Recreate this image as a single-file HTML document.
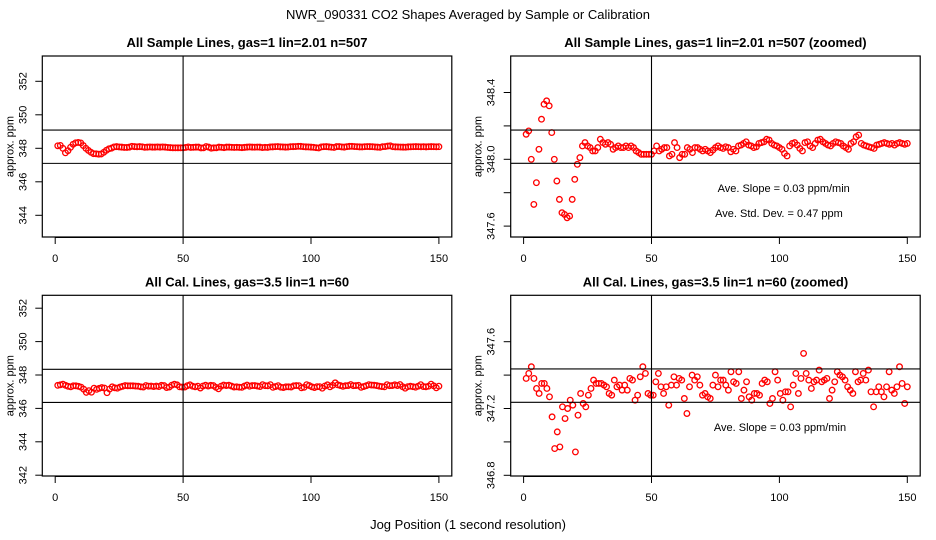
<!DOCTYPE html>
<html><head><meta charset="utf-8"><style>
html,body{margin:0;padding:0;background:#fff;}
svg{display:block;font-family:"Liberation Sans",sans-serif;}
</style></head><body>
<svg id="chart" width="936" height="540" viewBox="0 0 936 540" xmlns="http://www.w3.org/2000/svg">
<rect x="0" y="0" width="936" height="540" fill="#fff"/>
<text x="468" y="19" font-size="13" text-anchor="middle">NWR_090331  CO2 Shapes Averaged by Sample or Calibration</text>
<text x="468" y="529" font-size="13" text-anchor="middle">Jog Position (1 second resolution)</text>
<g id="panels"></g>
</svg>
<script>
const sampleValues = [348.15,348.17,348.00,347.73,347.86,348.06,348.24,348.33,348.35,348.32,
348.16,348.00,347.87,347.76,347.68,347.67,347.65,347.66,347.76,347.88,
347.97,348.01,348.08,348.10,348.08,348.07,348.05,348.05,348.07,348.12,
348.10,348.09,348.10,348.09,348.06,348.07,348.08,348.07,348.07,348.08,
348.07,348.08,348.07,348.05,348.04,348.03,348.03,348.03,348.03,348.03,
348.05,348.08,348.05,348.06,348.07,348.07,348.02,348.03,348.10,348.07,
348.01,348.03,348.03,348.07,348.06,348.04,348.07,348.07,348.06,348.05,
348.06,348.05,348.04,348.055,348.07,348.08,348.07,348.065,348.075,348.07,
348.045,348.06,348.05,348.08,348.085,348.095,348.105,348.085,348.08,348.07,
348.075,348.095,348.10,348.105,348.12,348.115,348.095,348.085,348.08,348.07,
348.06,348.035,348.02,348.08,348.095,348.10,348.085,348.065,348.05,348.10,
348.105,348.08,348.07,348.095,348.115,348.12,348.105,348.095,348.085,348.08,
348.095,348.105,348.10,348.095,348.08,348.07,348.06,348.095,348.105,348.135,
348.145,348.095,348.085,348.08,348.075,348.07,348.065,348.085,348.09,348.095,
348.10,348.095,348.09,348.095,348.085,348.095,348.10,348.095,348.09,348.095];
const calValues = [347.38,347.41,347.45,347.38,347.32,347.29,347.35,347.35,347.32,347.27,
347.15,346.96,347.06,346.97,347.21,347.14,347.20,347.25,347.22,346.94,
347.16,347.29,347.23,347.21,347.28,347.32,347.37,347.35,347.35,347.35,
347.34,347.33,347.29,347.28,347.37,347.33,347.34,347.31,347.34,347.31,
347.38,347.37,347.25,347.28,347.39,347.45,347.41,347.29,347.28,347.28,
347.36,347.41,347.33,347.29,347.33,347.22,347.34,347.39,347.34,347.38,
347.37,347.26,347.17,347.33,347.40,347.37,347.39,347.34,347.28,347.29,
347.27,347.26,347.34,347.40,
347.33,347.37,347.37,347.34,347.31,347.42,347.36,347.35,347.42,347.26,
347.31,347.36,347.27,347.25,347.29,347.29,347.28,347.35,347.37,347.36,
347.23,347.26,347.42,347.37,347.29,347.25,347.30,347.30,347.21,347.34,
347.41,347.29,347.38,347.53,347.41,347.37,347.32,347.36,347.37,347.43,
347.36,347.37,347.38,347.26,347.31,347.36,347.42,347.40,347.39,347.37,
347.33,347.31,347.29,347.42,347.36,347.37,347.41,347.37,347.43,347.30,
347.21,347.30,347.33,347.30,347.27,347.33,347.42,347.31,347.29,347.33,
347.45,347.35,347.23,347.33];
const xTicks = [0,50,100,150];
const ticksTL = [344,346,348,350,352];
const ticksTR = [347.6,347.8,348.0,348.2,348.4];
const labelsTR = ["347.6","","348.0","","348.4"];
const ticksBL = [342,344,346,348,350,352];
const ticksBR = [346.8,347.0,347.2,347.4,347.6];
const labelsBR = ["346.8","","347.2","","347.6"];
const hLinesTL = [347.1,349.09];
const hLinesTR = [347.976,348.175];
const hLinesBL = [346.36,348.34];
const hLinesBR = [347.237,347.437];
const vLine = [50];

const NS="http://www.w3.org/2000/svg";
const root=document.getElementById('panels');
function mk(tag,attrs,parent){const e=document.createElementNS(NS,tag);for(const k in attrs)e.setAttribute(k,attrs[k]);(parent||root).appendChild(e);return e;}

function panel(cfg){
  const g=mk('g',{});
  
  
  const L=cfg.left,T=cfg.top,B=cfg.bottom,R=cfg.left+409.5;
  const x0=cfg.left+12.9, xs=2.558;
  const xf=v=>x0+v*xs;
  const yf=v=>cfg.yRef-(v-cfg.vRef)*cfg.ys;
  const t=mk('text',{x:(L+R)/2,y:T-9,'font-size':13,'font-weight':'bold','text-anchor':'middle'},g);
  t.textContent=cfg.title;
  
  
  const box=mk('rect',{x:L,y:T,width:R-L,height:B-T,fill:'none',stroke:'#000','stroke-width':1.2},g);
  
  
  const xa=mk('line',{x1:xf(xTicks[0]),x2:xf(xTicks[xTicks.length-1]),y1:B+0.5,y2:B+0.5,stroke:'#000'},g);
  
  
  xTicks.forEach(v=>{
    const tk=mk('line',{x1:xf(v),x2:xf(v),y1:B,y2:B+7,stroke:'#000'},g);
    
    
    const tl=mk('text',{x:xf(v),y:B+25,'font-size':11,'text-anchor':'middle'},g);
    tl.textContent=String(v);
    
    
  });
  cfg.yticks.forEach((v,i)=>{
    const y=yf(v);
    const tk=mk('line',{x1:L-7,x2:L,y1:y,y2:y,stroke:'#000'},g);
    
    
    const lab=cfg.ylabels?cfg.ylabels[i]:String(v);
    if(lab){
      const tl=mk('text',{x:0,y:0,'font-size':11,'text-anchor':'middle',transform:`translate(${L-16},${y}) rotate(-90)`},g);
      tl.textContent=lab;
      
      
    }
  });
  const yl=mk('text',{x:0,y:0,'font-size':11,'text-anchor':'middle',transform:`translate(${L-29},${(T+B)/2}) rotate(-90)`},g);
  yl.textContent='approx. ppm';
  
  
  const clip='clip-'+cfg.name;
  const cp=mk('clipPath',{id:clip},g);mk('rect',{x:L,y:T,width:R-L,height:B-T},cp);
  const pts=mk('g',{'clip-path':`url(#${clip})`},g);
  
  
  const n=cfg.data.length;
  cfg.data.forEach((v,i)=>{
    const xv=1+i*149/(n-1);
    const c=mk('circle',{cx:xf(xv),cy:yf(v),r:2.8,fill:'none',stroke:'#f00','stroke-width':1.3},pts);
    
    
  });
  cfg.hlines.forEach(v=>{
    const l=mk('line',{x1:L,x2:R,y1:yf(v),y2:yf(v),stroke:'#000','stroke-width':1.1},g);
    
    
  });
  vLine.forEach(v=>{
    const l=mk('line',{x1:xf(v),x2:xf(v),y1:T,y2:B,stroke:'#000','stroke-width':1.1},g);
    
    
  });
  (cfg.notes||[]).forEach(nt=>{
    const tx=mk('text',{x:nt[0],y:nt[1],'font-size':11,'text-anchor':'middle'},g);
    tx.textContent=nt[2];
    
    
  });
}
panel({name:'panel-sample',title:'All Sample Lines, gas=1 lin=2.01 n=507',left:42.3,top:56,bottom:237,yRef:148.3,vRef:348,ys:16.75,yticks:ticksTL,data:sampleValues,hlines:hLinesTL});
panel({name:'panel-sample-zoomed',title:'All Sample Lines, gas=1 lin=2.01 n=507 (zoomed)',left:510.7,top:56,bottom:237,yRef:159.3,vRef:348,ys:167,yticks:ticksTR,ylabels:labelsTR,data:sampleValues,hlines:hLinesTR,
  notes:[[783.7,192,'Ave. Slope =  0.03  ppm/min'],[779,217,'Ave. Std. Dev. =  0.47  ppm']]});
panel({name:'panel-cal',title:'All Cal. Lines, gas=3.5 lin=1 n=60',left:42.3,top:295.3,bottom:476,yRef:375,vRef:348,ys:16.7,yticks:ticksBL,data:calValues,hlines:hLinesBL});
panel({name:'panel-cal-zoomed',title:'All Cal. Lines, gas=3.5 lin=1 n=60 (zoomed)',left:510.7,top:295.3,bottom:476,yRef:341.7,vRef:347.6,ys:167,yticks:ticksBR,ylabels:labelsBR,data:calValues,hlines:hLinesBR,
  notes:[[780,431,'Ave. Slope =  0.03  ppm/min']]});
</script>
</body></html>
